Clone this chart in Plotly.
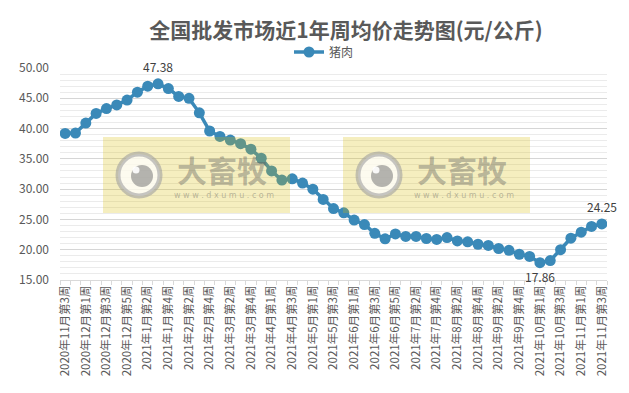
import plotly.graph_objects as go

weeks = [
    "2020年11月第3周", "2020年11月第4周",
    "2020年12月第1周", "2020年12月第2周", "2020年12月第3周", "2020年12月第4周", "2020年12月第5周",
    "2021年1月第1周", "2021年1月第2周", "2021年1月第3周", "2021年1月第4周",
    "2021年2月第1周", "2021年2月第2周", "2021年2月第3周", "2021年2月第4周",
    "2021年3月第1周", "2021年3月第2周", "2021年3月第3周", "2021年3月第4周", "2021年3月第5周",
    "2021年4月第1周", "2021年4月第2周", "2021年4月第3周", "2021年4月第4周",
    "2021年5月第1周", "2021年5月第2周", "2021年5月第3周", "2021年5月第4周",
    "2021年6月第1周", "2021年6月第2周", "2021年6月第3周", "2021年6月第4周", "2021年6月第5周",
    "2021年7月第1周", "2021年7月第2周", "2021年7月第3周", "2021年7月第4周",
    "2021年8月第1周", "2021年8月第2周", "2021年8月第3周", "2021年8月第4周",
    "2021年9月第1周", "2021年9月第2周", "2021年9月第3周", "2021年9月第4周", "2021年9月第5周",
    "2021年10月第1周", "2021年10月第2周", "2021年10月第3周", "2021年10月第4周",
    "2021年11月第1周", "2021年11月第2周", "2021年11月第3周",
]

pork = [
    39.20, 39.25, 40.90, 42.50, 43.30, 43.90, 44.70, 46.00, 47.00, 47.38,
    46.60, 45.30, 45.00, 42.60, 39.60, 38.70, 38.10, 37.50, 36.60, 35.10,
    33.00, 31.50, 31.70, 31.00, 30.00, 28.30, 26.80, 26.10, 24.90, 24.15,
    22.70, 21.80, 22.60, 22.20, 22.20, 21.85, 21.70, 22.00, 21.45, 21.30,
    20.90, 20.70, 20.20, 19.90, 19.25, 18.90, 17.86, 18.20, 20.00, 21.90,
    22.90, 23.85, 24.25,
]

series_name = "猪肉"
title_text = "全国批发市场近1年周均价走势图(元/公斤)"
y_ticks = [15, 20, 25, 30, 35, 40, 45, 50]
labelled = [9, 46, 52]  # max, min, last
label_shift = {9: 17, 46: -14, 52: 17}

# tick labels: every other week shown
tick_text = [w if i % 2 == 0 else "" for i, w in enumerate(weeks)]

FONT = "Noto Sans CJK SC, Noto Sans, sans-serif"
LINE = "#3A89B8"
GREY = "#595959"

W, H = 629, 393
L, R, T, B = 60, 22, 68, 113
PW, PH = W - L - R, H - T - B


def px(x):
    return (x - L) / PW


def py(y):
    return (H - B - y) / PH


fig = go.Figure()
fig.add_trace(go.Scatter(
    x=weeks, y=pork, name=series_name, mode="lines+markers",
    line=dict(color=LINE, width=3.5),
    marker=dict(color=LINE, size=11),
))

annotations = []
for i in labelled:
    annotations.append(dict(
        x=weeks[i], y=pork[i], xref="x", yref="y", text=f"{pork[i]:.2f}",
        showarrow=False, yshift=label_shift[i],
        font=dict(family=FONT, size=12, color="#404040"),
    ))

shapes = []
# watermark blocks (decoration)
for dx in (0, 240):
    x0, x1, y0, y1 = 103 + dx, 290 + dx, 137, 213
    shapes.append(dict(type="rect", xref="paper", yref="paper", layer="above",
                       x0=px(x0), x1=px(x1), y0=py(y1), y1=py(y0),
                       fillcolor="rgba(216,188,0,0.25)", line=dict(width=0)))
    cx, cy, r = 139 + dx, 175, 21
    shapes.append(dict(type="circle", xref="paper", yref="paper", layer="above",
                       x0=px(cx - r), x1=px(cx + r), y0=py(cy + r), y1=py(cy - r),
                       fillcolor="rgba(255,255,255,0.75)",
                       line=dict(color="rgba(160,160,160,0.6)", width=5)))
    cx2, cy2, r2 = 142 + dx, 176, 11
    shapes.append(dict(type="circle", xref="paper", yref="paper", layer="above",
                       x0=px(cx2 - r2), x1=px(cx2 + r2), y0=py(cy2 + r2), y1=py(cy2 - r2),
                       fillcolor="rgba(120,120,120,0.55)", line=dict(width=0)))
    cx3, cy3, r3 = 136 + dx, 170, 3.5
    shapes.append(dict(type="circle", xref="paper", yref="paper", layer="above",
                       x0=px(cx3 - r3), x1=px(cx3 + r3), y0=py(cy3 + r3), y1=py(cy3 - r3),
                       fillcolor="rgba(255,255,255,0.9)", line=dict(width=0)))
    annotations.append(dict(x=px(222 + dx), y=py(169), xref="paper", yref="paper",
                            xanchor="center", yanchor="middle",
                            text="<b>大畜牧</b>", showarrow=False,
                            font=dict(family=FONT, size=30, color="rgba(90,90,90,0.4)")))
    annotations.append(dict(x=px(224 + dx), y=py(195), xref="paper", yref="paper",
                            xanchor="center", yanchor="middle",
                            text="w w w . d x u m u . c o m", showarrow=False,
                            font=dict(family="DejaVu Sans, sans-serif", size=8,
                                      color="rgba(90,90,90,0.4)")))

fig.update_layout(
    width=W, height=H,
    margin=dict(l=L, r=R, t=T, b=B, autoexpand=False),
    paper_bgcolor="white", plot_bgcolor="white",
    font=dict(family=FONT, color=GREY),
    title=dict(text=f"<b>{title_text}</b>", x=346 / W, xref="container", xanchor="center",
               y=1 - 31 / H, yanchor="middle",
               font=dict(family=FONT, size=21, color=GREY)),
    showlegend=True,
    legend=dict(orientation="h", x=px(324), xanchor="center", y=py(52), yanchor="middle",
                font=dict(family=FONT, size=12, color=GREY), itemwidth=30,
                bgcolor="rgba(0,0,0,0)"),
    xaxis=dict(
        type="category", categoryorder="array", categoryarray=weeks,
        range=[-0.5, len(weeks) - 0.5],
        tickmode="array", tickvals=weeks, ticktext=tick_text,
        tickangle=-90, tickson="boundaries", ticks="outside", ticklen=4,
        tickcolor="#d9d9d9", showline=True, linecolor="#d9d9d9", linewidth=1,
        showgrid=False, tickfont=dict(family=FONT, size=11.5, color=GREY),
    ),
    yaxis=dict(
        range=[15, 50], tickmode="array", tickvals=y_ticks, tickformat=".2f",
        showgrid=True, gridcolor="#d6d6d6", gridwidth=1, zeroline=False,
        showline=False, ticks="", ticklabelstandoff=10,
        tickfont=dict(family=FONT, size=12, color=GREY),
        minor=dict(dtick=1, showgrid=True, gridcolor="#ebebeb", gridwidth=1),
    ),
    shapes=shapes,
    annotations=annotations,
)

fig.write_html(
    "out.html",
    config={"displayModeBar": False},
    post_script="document.body.style.margin='0';document.body.style.padding='0';",
)
